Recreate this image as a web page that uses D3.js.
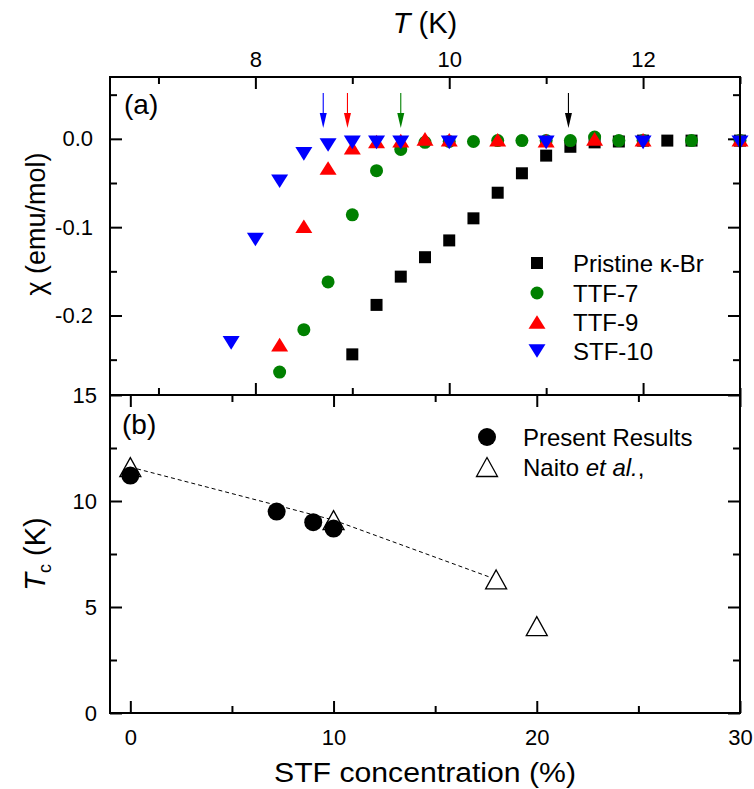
<!DOCTYPE html>
<html>
<head>
<meta charset="utf-8">
<script src="https://cdn.jsdelivr.net/npm/d3@7/dist/d3.min.js"></script>
<style>
	body { margin: 0; background: #fff; }
	svg text { font-family: "Liberation Sans", Arial, sans-serif; fill: #000; }
</style>
</head>
<body>
<div id="chartDiv"></div>
<script>

// Panel (a): susceptibility vs temperature
var tPristine   = [9.0, 9.25, 9.5, 9.75, 10.0, 10.25, 10.5, 10.75, 11.0, 11.25, 11.5, 11.75, 12.0, 12.25, 12.5, 13.0];
var chiPristine = [-0.244, -0.188, -0.156, -0.134, -0.115, -0.090, -0.061, -0.039, -0.019, -0.009, -0.004, -0.003, -0.002, -0.002, -0.002, -0.002];

var tTTF7   = [8.25, 8.5, 8.75, 9.0, 9.25, 9.5, 9.75, 10.0, 10.25, 10.5, 10.75, 11.0, 11.25, 11.5, 11.75, 12.0, 12.5, 13.0];
var chiTTF7 = [-0.264, -0.216, -0.162, -0.086, -0.036, -0.012, -0.004, -0.003, -0.003, -0.002, -0.002, -0.002, -0.002, 0.002, -0.002, -0.002, -0.002, -0.002];

var tTTF9   = [8.25, 8.5, 8.75, 9.0, 9.25, 9.5, 9.75, 10.0, 10.5, 11.0, 11.5, 12.0, 13.0];
var chiTTF9 = [-0.233, -0.099, -0.033, -0.010, -0.003, -0.002, 0.000, -0.001, -0.001, -0.002, 0.000, -0.001, -0.001];

var tSTF10   = [7.75, 8.0, 8.25, 8.5, 8.75, 9.0, 9.25, 9.5, 10.0, 11.0, 12.0, 13.0];
var chiSTF10 = [-0.231, -0.114, -0.048, -0.017, -0.007, -0.004, -0.004, -0.004, -0.004, -0.004, -0.004, -0.004];

// Tc arrows (K), same order as the series
var arrowT = [11.23, 9.5, 8.95, 8.7];

var seriesNames = ["Pristine \u03BA-Br", "TTF-7", "TTF-9", "STF-10"];

// Panel (b): Tc vs STF concentration
var concPresent = [0, 7.2, 9, 10];
var tcPresent   = [11.2, 9.5, 9.0, 8.7];
var concNaito   = [0, 10, 18, 20];
var tcNaito     = [11.6, 9.1, 6.3, 4.1];

// Tick labels
var tTicks     = [8, 10, 12];
var tMinor     = [7, 9, 11, 13];
var chiTicks   = [0, -0.1, -0.2];
var chiMinor   = [0.05, -0.05, -0.15, -0.25];
var concTicks  = [0, 10, 20, 30];
var concMinor  = [5, 15, 25];
var tcTicks    = [0, 5, 10, 15];
var tcMinor    = [2.5, 7.5, 12.5];

var TcViz = function(width, height) {

	var width  = width;
	var height = height;
	var svg    = null;

	// Plot frame
	var LEFT   = 110;
	var RIGHT  = 740;
	var TOP_A  = 77;
	var MID    = 395;
	var BOT_B  = 713;
	var MAJOR  = 12;
	var MINOR  = 7;

	var xT   = d3.scaleLinear().domain([6.5, 13]).range([LEFT, RIGHT]);
	var yChi = d3.scaleLinear().domain([-0.29, 0.07]).range([MID, TOP_A]);
	var xC   = d3.scaleLinear().domain([-1, 30]).range([LEFT, RIGHT]);
	var yTc  = d3.scaleLinear().domain([0, 15]).range([BOT_B, MID]);

	var COLORS = ["#000000", "#008000", "#ff0000", "#0000ff"];

	/*---------------------------
	| constructor
	-----------------*/

	var constructor = function() {
		svg = d3.select("#chartDiv").append("svg")
			.attr("width", width)
			.attr("height", height);

		drawAxes();
		drawPanelA();
		drawPanelB();
		drawFrames();
		return {};
	}

	/*---------------------------
	| addAxis
	-----------------*/

	var addAxis = function(axisFn, scale, ticks, size, pad, transform, fmt) {
		var ax = axisFn(scale)
			.tickValues(ticks)
			.tickSizeInner(-size)
			.tickSizeOuter(0)
			.tickPadding(pad)
			.tickFormat(fmt === null ? "" : fmt);
		var g = svg.append("g")
			.attr("transform", transform)
			.call(ax);
		g.select(".domain").remove();
		g.selectAll("line").attr("stroke", "#000").attr("stroke-width", 2);
		g.selectAll("text")
			.style("font-family", '"Liberation Sans", Arial, sans-serif')
			.style("font-size", "22px");
		return g;
	}

	/*---------------------------
	| drawAxes
	-----------------*/

	var drawAxes = function() {
		var fmt1 = function(d) { return d.toFixed(1); };
		var fmt0 = function(d) { return String(d); };

		// Panel (a): top T axis and its mirror at the bottom
		addAxis(d3.axisTop, xT, tTicks, MAJOR, 10, `translate(0,${TOP_A})`, fmt0);
		addAxis(d3.axisTop, xT, tMinor, MINOR, 0, `translate(0,${TOP_A})`, null);
		addAxis(d3.axisBottom, xT, tTicks, MAJOR, 0, `translate(0,${MID})`, null);
		addAxis(d3.axisBottom, xT, tMinor, MINOR, 0, `translate(0,${MID})`, null);

		addAxis(d3.axisLeft, yChi, chiTicks, MAJOR, 17, `translate(${LEFT},0)`, fmt1);
		addAxis(d3.axisLeft, yChi, chiMinor, MINOR, 0, `translate(${LEFT},0)`, null);
		addAxis(d3.axisRight, yChi, chiTicks, MAJOR, 0, `translate(${RIGHT},0)`, null);
		addAxis(d3.axisRight, yChi, chiMinor, MINOR, 0, `translate(${RIGHT},0)`, null);

		// Panel (b)
		addAxis(d3.axisBottom, xC, concTicks, MAJOR, 16, `translate(0,${BOT_B})`, fmt0);
		addAxis(d3.axisBottom, xC, concMinor, MINOR, 0, `translate(0,${BOT_B})`, null);
		addAxis(d3.axisTop, xC, concTicks, MAJOR, 0, `translate(0,${MID})`, null);
		addAxis(d3.axisTop, xC, concMinor, MINOR, 0, `translate(0,${MID})`, null);

		addAxis(d3.axisLeft, yTc, tcTicks, MAJOR, 13, `translate(${LEFT},0)`, fmt0);
		addAxis(d3.axisLeft, yTc, tcMinor, MINOR, 0, `translate(${LEFT},0)`, null);
		addAxis(d3.axisRight, yTc, tcTicks, MAJOR, 0, `translate(${RIGHT},0)`, null);
		addAxis(d3.axisRight, yTc, tcMinor, MINOR, 0, `translate(${RIGHT},0)`, null);

		// Axis titles
		var top = svg.append("text")
			.attr("x", (LEFT + RIGHT) / 2)
			.attr("y", 33)
			.attr("text-anchor", "middle")
			.style("font-size", "29px");
		top.append("tspan").style("font-style", "italic").text("T");
		top.append("tspan").text(" (K)");

		svg.append("text")
			.attr("x", (LEFT + RIGHT) / 2)
			.attr("y", 782)
			.attr("text-anchor", "middle")
			.attr("textLength", 302)
			.attr("lengthAdjust", "spacingAndGlyphs")
			.style("font-size", "27px")
			.text("STF concentration (%)");

		// χ label sits a bit above the panel centre in the original
		svg.append("text")
			.attr("transform", `translate(45,${(TOP_A + MID) / 2 - 12}) rotate(-90)`)
			.attr("text-anchor", "middle")
			.style("font-size", "27px")
			.text("\u03C7  (emu/mol)");

		var tcLabel = svg.append("text")
			.attr("transform", `translate(45,${(MID + BOT_B) / 2}) rotate(-90)`)
			.attr("text-anchor", "middle")
			.style("font-size", "29px");
		tcLabel.append("tspan").style("font-style", "italic").text("T");
		tcLabel.append("tspan").attr("dy", 6).style("font-size", "18px").text("c");
		tcLabel.append("tspan").attr("dy", -6).text(" (K)");

		svg.append("text").attr("x", 124).attr("y", 114).style("font-size", "28px").text("(a)");
		svg.append("text").attr("x", 122).attr("y", 434).style("font-size", "28px").text("(b)");
	}

	/*---------------------------
	| marker paths (centred on bbox)
	-----------------*/

	var markerPath = function(kind, s) {
		var h = s / 2;
		switch (kind) {
		case "square":
			return `M${-h},${-h}H${h}V${h}H${-h}Z`;
		case "up":
			return `M0,${-h * 0.8}L${h},${h * 0.8}L${-h},${h * 0.8}Z`;
		case "down":
			return `M0,${h * 0.8}L${h},${-h * 0.8}L${-h},${-h * 0.8}Z`;
		}
	}

	var drawMarker = function(g, kind, x, y, color, size) {
		if (kind === "circle") {
			g.append("circle")
				.attr("cx", x).attr("cy", y).attr("r", size / 2)
				.attr("fill", color);
		} else {
			g.append("path")
				.attr("transform", `translate(${x},${y})`)
				.attr("d", markerPath(kind, size))
				.attr("fill", color);
		}
	}

	/*---------------------------
	| drawPanelA
	-----------------*/

	var drawPanelA = function() {
		var kinds = ["square", "circle", "up", "down"];
		var sizes = [12, 13, 17, 17];
		var tSets = [tPristine, tTTF7, tTTF9, tSTF10];
		var cSets = [chiPristine, chiTTF7, chiTTF9, chiSTF10];

		var g = svg.append("g").attr("class", "panelA");

		tSets.forEach(function(ts, i) {
			ts.forEach(function(t, j) {
				drawMarker(g, kinds[i], xT(t), yChi(cSets[i][j]), COLORS[i], sizes[i]);
			});
		});

		// Tc arrows
		arrowT.forEach(function(t, i) {
			var x = xT(t);
			g.append("line")
				.attr("x1", x).attr("x2", x)
				.attr("y1", 93).attr("y2", 118)
				.attr("stroke", COLORS[i]).attr("stroke-width", 1.1);
			g.append("path")
				.attr("d", `M${x - 3.5},${113}L${x + 3.5},${113}L${x},${128}Z`)
				.attr("fill", COLORS[i]);
		});

		// Legend
		var lx = 537, ly = [263, 293, 322, 351];
		seriesNames.forEach(function(name, i) {
			drawMarker(g, kinds[i], lx, ly[i], COLORS[i], sizes[i]);
			g.append("text")
				.attr("x", 573)
				.attr("y", ly[i] + 8.5)
				.style("font-size", "24px")
				.text(name);
		});
	}

	/*---------------------------
	| drawPanelB
	-----------------*/

	var drawPanelB = function() {
		var g = svg.append("g").attr("class", "panelB");

		var line = d3.line()
			.x(function(d) { return xC(d[0]); })
			.y(function(d) { return yTc(d[1]); });

		var naitoLine = concNaito.slice(0, 3).map(function(c, i) { return [c, tcNaito[i]]; });

		g.append("path")
			.attr("d", line(naitoLine))
			.attr("fill", "none")
			.attr("stroke", "#000")
			.attr("stroke-width", 1)
			.attr("stroke-dasharray", "4,3");

		var openTri = function(x, y) {
			g.append("path")
				.attr("transform", `translate(${x},${y})`)
				.attr("d", "M0,-9.5L10.5,9.5L-10.5,9.5Z")
				.attr("fill", "#fff")
				.attr("stroke", "#000")
				.attr("stroke-width", 1.3);
		}

		concNaito.forEach(function(c, i) {
			openTri(xC(c), yTc(tcNaito[i]));
		});

		concPresent.forEach(function(c, i) {
			g.append("circle")
				.attr("cx", xC(c)).attr("cy", yTc(tcPresent[i])).attr("r", 9)
				.attr("fill", "#000");
		});

		// Legend
		g.append("circle").attr("cx", 487).attr("cy", 437).attr("r", 9).attr("fill", "#000");
		openTri(487, 467);
		g.append("text").attr("x", 523).attr("y", 446).style("font-size", "24px").text("Present Results");
		var nt = g.append("text").attr("x", 523).attr("y", 476).style("font-size", "24px");
		nt.append("tspan").text("Naito ");
		nt.append("tspan").style("font-style", "italic").text("et al.");
		nt.append("tspan").text(",");
	}

	/*---------------------------
	| drawFrames
	-----------------*/

	var drawFrames = function() {
		[[TOP_A, MID], [MID, BOT_B]].forEach(function(p) {
			svg.append("rect")
				.attr("x", LEFT).attr("y", p[0])
				.attr("width", RIGHT - LEFT).attr("height", p[1] - p[0])
				.attr("fill", "none")
				.attr("stroke", "#000")
				.attr("stroke-width", 2);
		});
	}

	return constructor();
}

var tcViz = TcViz(754, 789);

</script>
</body>
</html>
